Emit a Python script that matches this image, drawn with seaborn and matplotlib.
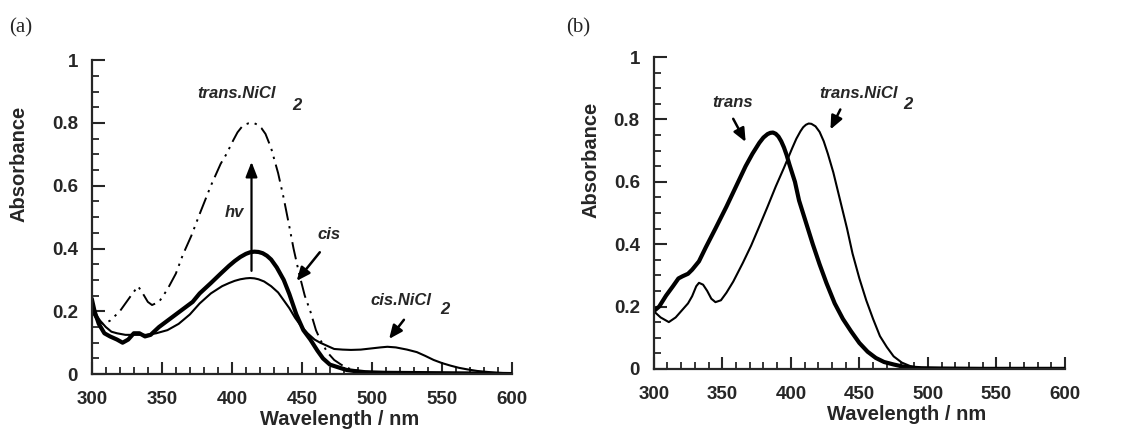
import numpy as np
import pandas as pd
import matplotlib
matplotlib.use("Agg")
from matplotlib import pyplot as plt
from matplotlib.ticker import MultipleLocator
import seaborn as sns

# panel (a)
wl_trans_ni_a = [300, 304, 308, 313, 320, 328, 333, 336, 340, 343, 348, 354, 360, 365, 371, 377, 385, 392, 396, 401,
                 404, 407, 410, 412, 414, 416, 418, 421, 424, 428, 433, 437, 441, 444, 448, 452, 456, 460, 463, 468,
                 473, 478, 482, 488, 495, 505, 520, 540, 560, 580, 600]
abs_trans_ni_a = [0.20, 0.17, 0.16, 0.17, 0.20, 0.25, 0.28, 0.26, 0.23, 0.22, 0.23, 0.27, 0.32, 0.38, 0.44, 0.51, 0.60,
                  0.67, 0.70, 0.745, 0.77, 0.787, 0.796, 0.799, 0.80, 0.799, 0.795, 0.784, 0.765, 0.72, 0.64, 0.56,
                  0.47, 0.40, 0.32, 0.25, 0.20, 0.14, 0.11, 0.07, 0.045, 0.03, 0.02, 0.012, 0.008, 0.005, 0.004, 0.003,
                  0.002, 0.001, 0.0]

wl_cis_a = [300, 302, 305, 309, 313, 318, 322, 326, 330, 334, 338, 342, 348, 354, 360, 366, 372, 377, 385, 392,
            398, 402, 406, 410, 413, 416, 419, 422, 425, 428, 432, 437, 441, 446, 451, 456, 461, 465, 470, 477,
            482, 487, 495, 510, 540, 570, 600]
abs_cis_a = [0.24, 0.20, 0.16, 0.13, 0.12, 0.11, 0.10, 0.11, 0.13, 0.13, 0.12, 0.125, 0.15, 0.17, 0.19, 0.21, 0.23,
             0.257, 0.29, 0.32, 0.345, 0.36, 0.373, 0.383, 0.388, 0.39, 0.389, 0.385, 0.377, 0.365, 0.34, 0.30, 0.255,
             0.19, 0.14, 0.11, 0.075, 0.05, 0.03, 0.02, 0.013, 0.01, 0.006, 0.004, 0.003, 0.002, 0.0]

wl_cis_ni_a = [300, 303, 306, 310, 314, 318, 324, 330, 339, 346, 354, 362, 370, 377, 385, 393, 398, 402, 406, 410,
               413, 416, 419, 423, 428, 433, 437, 441, 445, 449, 454, 459, 463, 468, 473, 479, 485, 492, 500, 506,
               511, 517, 525, 532, 538, 544, 550, 556, 562, 568, 575, 582, 590, 600]
abs_cis_ni_a = [0.22, 0.19, 0.17, 0.15, 0.135, 0.13, 0.125, 0.125, 0.125, 0.13, 0.14, 0.16, 0.19, 0.225, 0.257,
                0.28, 0.29, 0.297, 0.302, 0.305, 0.306, 0.305, 0.302, 0.295, 0.28, 0.26, 0.235, 0.21, 0.18, 0.155,
                0.13, 0.11, 0.10, 0.09, 0.08, 0.078, 0.077, 0.078, 0.082, 0.085, 0.087, 0.085, 0.078, 0.07, 0.058,
                0.045, 0.035, 0.027, 0.02, 0.015, 0.01, 0.007, 0.004, 0.002]

# panel (b)
wl_trans_b = [300, 304, 309, 314, 318, 321, 325, 328, 333, 338, 345, 353, 360, 367, 372, 377, 380, 383, 385, 387, 389,
              391, 393, 395, 397, 399, 403, 406, 411, 416, 421, 426, 432, 438, 444, 450, 456, 462, 468, 475, 481, 487,
              495, 510, 540, 570, 600]
abs_trans_b = [0.185, 0.20, 0.235, 0.265, 0.29, 0.297, 0.305, 0.318, 0.345, 0.39, 0.45, 0.52, 0.585, 0.65, 0.69, 0.725,
               0.742, 0.753, 0.757, 0.758, 0.754, 0.745, 0.73, 0.71, 0.685, 0.655, 0.60, 0.54, 0.47, 0.40, 0.335,
               0.275, 0.21, 0.16, 0.12, 0.083, 0.055, 0.035, 0.022, 0.014, 0.008, 0.004, 0.002, 0.001, 0.0, 0.0, 0.0]

wl_trans_ni_b = [300, 305, 311, 316, 321, 325, 328, 331, 333, 336, 339, 342, 345, 349, 353, 358, 365, 371, 377, 383,
                 389, 395, 401, 404, 407, 409, 411, 413, 415, 418, 421, 424, 427, 431, 436, 441, 445, 450, 455, 460,
                 465, 470, 475, 481, 487, 493, 499, 520, 550, 600]
abs_trans_ni_b = [0.185, 0.165, 0.15, 0.165, 0.19, 0.21, 0.233, 0.265, 0.276, 0.27, 0.25, 0.225, 0.214, 0.22, 0.244,
                  0.28, 0.34, 0.395, 0.457, 0.52, 0.585, 0.645, 0.708, 0.738, 0.762, 0.775, 0.783, 0.787, 0.786,
                  0.778, 0.76, 0.73, 0.69, 0.63, 0.54, 0.45, 0.37, 0.29, 0.22, 0.16, 0.105, 0.07, 0.04, 0.02, 0.009,
                  0.004, 0.001, 0.0, 0.0, 0.0]

x_ticks = [300, 350, 400, 450, 500, 550, 600]
y_ticks = [0, 0.2, 0.4, 0.6, 0.8, 1]
y_tick_labels = ["0", "0.2", "0.4", "0.6", "0.8", "1"]

sns.set_style("ticks")
plt.rcParams['font.family'] = ['Liberation Sans', 'DejaVu Sans']

fig = plt.figure(figsize=(11.33, 4.36), dpi=100)
ax1 = fig.add_axes([0.081, 0.142, 0.371, 0.72])
ax2 = fig.add_axes([0.577, 0.154, 0.363, 0.715])

dash_dot_dot = (0, (9, 3, 1.2, 3, 1.2, 3))

sns.lineplot(x=wl_trans_ni_a, y=abs_trans_ni_a, ax=ax1, color="black", lw=1.4, linestyle=dash_dot_dot, sort=False)
sns.lineplot(x=wl_cis_a, y=abs_cis_a, ax=ax1, color="black", lw=3.0, sort=False)
sns.lineplot(x=wl_cis_ni_a, y=abs_cis_ni_a, ax=ax1, color="black", lw=1.5, sort=False)

sns.lineplot(x=wl_trans_b, y=abs_trans_b, ax=ax2, color="black", lw=3.0, sort=False)
sns.lineplot(x=wl_trans_ni_b, y=abs_trans_ni_b, ax=ax2, color="black", lw=1.5, sort=False)

for ax, xlab_x, ylab_x in ((ax1, 0.59, -0.15), (ax2, 0.615, -0.13)):
    ax.set_xlim(300, 600)
    ax.set_ylim(0, 1)
    ax.set_xticks(x_ticks)
    ax.set_yticks(y_ticks)
    ax.set_yticklabels(y_tick_labels)
    ax.xaxis.set_minor_locator(MultipleLocator(10))
    ax.yaxis.set_minor_locator(MultipleLocator(0.05))
    ax.tick_params(which="major", direction="in", length=9, width=1.5, pad=12, labelsize=13.5)
    ax.tick_params(which="minor", direction="in", length=5, width=1.3)
    ax.tick_params(axis="y", pad=10)
    for lab in ax.get_xticklabels() + ax.get_yticklabels():
        lab.set_fontweight("bold")
    sns.despine(ax=ax)
    ax.spines["left"].set_linewidth(1.6)
    ax.spines["bottom"].set_linewidth(1.6)
    ax.set_xlabel("Wavelength / nm", fontsize=14.5, fontweight="bold")
    ax.set_ylabel("Absorbance", fontsize=14.5, fontweight="bold")
    ax.xaxis.set_label_coords(xlab_x, -0.115)
    ax.yaxis.set_label_coords(ylab_x, 0.67)

# panel letters
fig.text(0.008, 0.925, "(a)", fontsize=15, family="Liberation Serif")
fig.text(0.500, 0.925, "(b)", fontsize=15, family="Liberation Serif")

ann = dict(fontsize=12, fontweight="bold", style="italic")
arrow = dict(arrowstyle="-|>,head_length=0.8,head_width=0.35", color="black", lw=1.8)

# annotations panel (a)
ax1.text(375, 0.88, "trans.NiCl", **ann)
ax1.text(443, 0.84, "2", **ann)
ax1.text(395, 0.5, "hv", **ann)
ax1.text(461, 0.43, "cis", **ann)
ax1.annotate("", xy=(445, 0.29), xytext=(464, 0.395), arrowprops=arrow)
ax1.annotate("", xy=(414, 0.685), xytext=(414, 0.32),
             arrowprops=dict(arrowstyle="-|>,head_length=0.9,head_width=0.35", color="black", lw=1.6))
ax1.text(499, 0.22, "cis.NiCl", **ann)
ax1.text(549, 0.19, "2", **ann)
ax1.annotate("", xy=(511, 0.105), xytext=(524, 0.18), arrowprops=arrow)

# annotations panel (b)
ax2.text(343, 0.84, "trans", **ann)
ax2.annotate("", xy=(368, 0.72), xytext=(357, 0.81), arrowprops=arrow)
ax2.text(421, 0.87, "trans.NiCl", **ann)
ax2.text(482, 0.835, "2", **ann)
ax2.annotate("", xy=(428, 0.76), xytext=(437, 0.84), arrowprops=arrow)

plt.savefig("out.png", dpi=100)
